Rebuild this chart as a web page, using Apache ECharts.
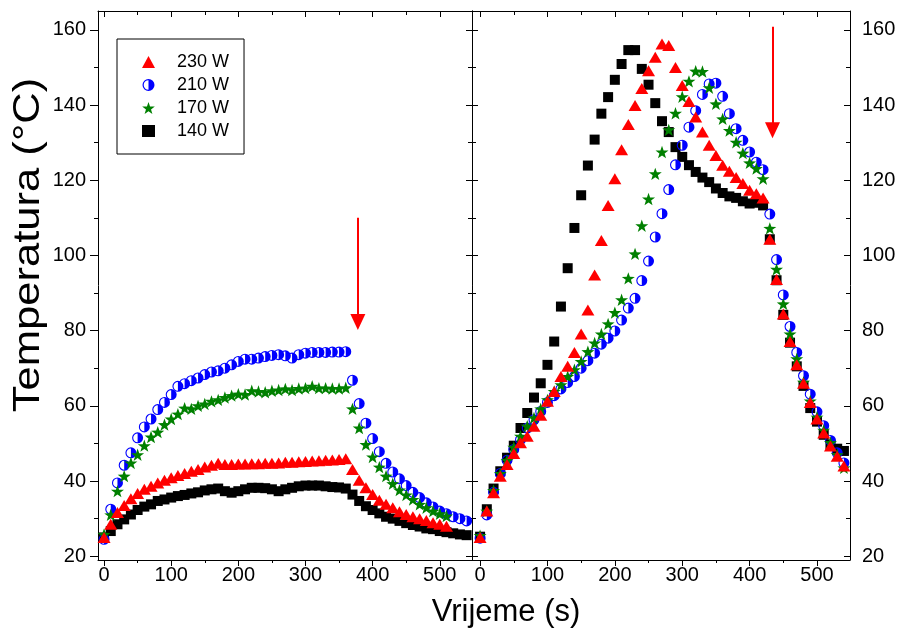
<!DOCTYPE html>
<html><head><meta charset="utf-8">
<script src="https://cdn.jsdelivr.net/npm/echarts@6/dist/echarts.min.js"></script>
<style>html,body{margin:0;padding:0;background:#fff}#c{width:899px;height:630px}</style>
</head><body><div id="c"></div>
<script>
// ---------- data ----------
const seriesNames = ['230 W', '210 W', '170 W', '140 W'];
const timeS = [0,10,20,30,40,50,60,70,80,90,100,110,120,130,140,150,160,170,180,190,200,210,220,230,240,250,260,270,280,290,300,310,320,330,340,350,360,370,380,390,400,410,420,430,440,450,460,470,480,490,500,510,520,530,540];
const xMajorTicks = [0, 100, 200, 300, 400, 500];
const xMinorTicks = [50, 150, 250, 350, 450];
const yMajorTicks = [20, 40, 60, 80, 100, 120, 140, 160];
const yMinorTicks = [30, 50, 70, 90, 110, 130, 150];

// left panel
const w230Left = [25,28.5,31.6,33.5,35.3,36.7,37.8,38.6,39.5,40.2,40.9,41.5,42,42.6,43.1,43.7,44.2,44.7,44.4,44.4,44.5,44.5,44.6,44.6,44.7,44.7,44.8,45,45,45.1,45.2,45.3,45.4,45.5,45.6,45.7,45.9,43.1,40.2,38.2,36.4,34.9,33.8,32.9,31.8,31.1,30.5,30,29.5,28.9,28.5,28];
const w210Left = [24.5,32.5,39.5,44.2,47.5,51.5,54.4,56.5,59,60.9,63,65.2,65.9,66.7,67.4,68.3,69,69.3,70,70.9,71.8,72.4,72.4,72.7,73.1,73.4,73.6,73.3,72.7,73.6,74,74.2,74.2,74.2,74.3,74.3,74.4,66.8,60.6,55.4,51.3,47.8,44.7,42.4,40.6,38.8,37,35.6,34.2,33.1,32,31.3,30.5,30,29.4];
const w170Left = [25.8,31,37.3,41.3,44.8,47,49.4,51.7,53,55,56.5,57.8,59.4,59.2,60,60.5,61.2,61.6,62.2,62.7,63.1,63,64,63.8,63.6,64,64.2,64.5,64.2,64.6,64.7,65.2,64.7,64.7,64.6,64.6,64.8,59.2,54.1,49.7,46.4,43.7,41.3,39.3,37.6,36.3,35.1,33.8,32.9,32,31.3,30.7];
const w140Left = [25,26.7,28.5,29.8,31.1,32.3,33.2,33.8,34.7,35.1,35.6,36,36.3,36.7,37,37.5,37.8,38,37.3,36.9,37.3,37.8,38.2,38.2,38.1,37.8,37.3,37.8,38.2,38.6,38.8,38.8,38.8,38.6,38.4,38.3,38,36.4,34.7,33.3,32.3,31.4,30.5,30,29.4,28.8,28.3,27.9,27.4,27.2,26.7,26.4,26.1,25.8,25.6];

// right panel
const w230Right = [25,32,36.9,41.3,44.4,47.3,50.2,51.9,54.6,57.5,61.2,63.8,67.8,70.5,74.2,79.1,85.5,94.8,104,113.3,120.4,128.1,134.8,139.9,144.4,149.1,152.7,156.2,155.8,150,145.2,140.9,136.8,132.8,129.3,126.6,124,122.4,120.7,119.1,117.3,116.4,115.3,104.3,93.6,84.4,77.1,70.9,66,60.9,56.5,52.8,49.3,46.6,44];
const w210Right = [24.8,31,37,42,45.5,48.4,51,54.1,56.3,58.5,60.9,62.7,64.5,66.2,67.8,70,72,74,76.4,78,79.9,82.8,86,88.6,93.3,98.5,104.9,111.1,117.5,124.1,129.3,134.1,138.5,142.8,145.6,145.8,142.3,137.7,133.7,130.6,127.5,124.8,122.8,111,98.9,89.5,81.1,74.2,68,63.1,58.4,54.7,50.8,47.5,44.8];
const w170Right = [25.5,32,37.5,42,45.5,49,51.9,54.6,56.8,59.2,61.6,63.8,65.6,67.8,69.6,71.8,74.4,76.7,79.1,81.8,84.8,88.2,93.9,100.4,107.9,115,121.7,127.5,133.4,137.8,142.2,146.3,149,148.9,144.6,140.3,136.3,133.2,130.1,127.2,124.6,123.1,120.4,107.2,96.3,87.1,79.1,72.5,66.3,61.3,57,53.5,50.2,47,43.5];
const w140Right = [25.2,32.5,38,42.6,46.2,49.4,54.1,58.1,62.2,66,70.9,77.1,86.4,96.6,107.3,116,123.9,130.8,137.7,142.1,146.7,150.9,154.6,154.6,149.6,145.4,140.5,135.7,132.8,128.8,126.2,124,122.2,120.7,119.5,117.8,116.6,115.7,115.3,114.4,113.8,114,113.3,104.3,93.4,84.2,76.8,70.5,65.3,59.4,55.8,52.3,49.7,48.6,48];

// ---------- chart ----------
const FONT = "'Liberation Sans', Arial, Helvetica, sans-serif";
const pairs = (vals) => vals.map((v, i) => [timeS[i], v]);

const STAR = 'path://M10,0L12.351,6.764L19.511,6.910L13.804,11.236L15.878,18.090L10,14L4.122,18.090L6.196,11.236L0.489,6.910L7.649,6.764Z';
const HALF = 'path://M10,0A10,10 0 1,1 10,20A10,10 0 1,1 10,0Z M10,2A8,8 0 1,0 10,18A8,8 0 1,0 10,2Z M10,2A8,8 0 0,1 10,18Z';

const LINE = { color: '#000', width: 1 };

function xAxes(grid, min, max) {
  const base = { gridIndex: grid, type: 'value', min, max, splitLine: { show: false } };
  return [
    Object.assign({}, base, { position: 'bottom',
      axisLine: { show: true, onZero: false, lineStyle: LINE },
      axisTick: { show: true, inside: false, length: 6, customValues: xMajorTicks, lineStyle: LINE },
      axisLabel: { show: true, customValues: xMajorTicks, margin: 5, fontSize: 20, color: '#000', fontFamily: FONT } }),
    Object.assign({}, base, { position: 'bottom',
      axisLine: { show: false, onZero: false },
      axisTick: { show: true, inside: false, length: 3, customValues: xMinorTicks, lineStyle: LINE },
      axisLabel: { show: false } }),
    Object.assign({}, base, { position: 'top',
      axisLine: { show: true, onZero: false, lineStyle: LINE },
      axisTick: { show: true, inside: true, length: 6, customValues: xMajorTicks, lineStyle: LINE },
      axisLabel: { show: false } }),
    Object.assign({}, base, { position: 'top',
      axisLine: { show: false, onZero: false },
      axisTick: { show: true, inside: true, length: 4, customValues: xMinorTicks, lineStyle: LINE },
      axisLabel: { show: false } })
  ];
}
function yAxes(grid, leftInside, leftLabels, rightLabels) {
  const base = { gridIndex: grid, type: 'value', min: 19, max: 165, splitLine: { show: false } };
  const lab = (show) => show ? { show: true, customValues: yMajorTicks, margin: 12, fontSize: 20, color: '#000', fontFamily: FONT } : { show: false };
  return [
    Object.assign({}, base, { position: 'left',
      axisLine: { show: true, onZero: false, lineStyle: LINE },
      axisTick: { show: true, inside: leftInside, length: leftInside ? 6 : 8, customValues: yMajorTicks, lineStyle: LINE },
      axisLabel: lab(leftLabels) }),
    Object.assign({}, base, { position: 'left',
      axisLine: { show: false, onZero: false },
      axisTick: { show: true, inside: leftInside, length: 4, customValues: yMinorTicks, lineStyle: LINE },
      axisLabel: { show: false } }),
    Object.assign({}, base, { position: 'right',
      axisLine: { show: true, onZero: false, lineStyle: LINE },
      axisTick: { show: true, inside: true, length: 6, customValues: yMajorTicks, lineStyle: LINE },
      axisLabel: lab(rightLabels) }),
    Object.assign({}, base, { position: 'right',
      axisLine: { show: false, onZero: false },
      axisTick: { show: true, inside: true, length: 4, customValues: yMinorTicks, lineStyle: LINE },
      axisLabel: { show: false } })
  ];
}

const styles = {
  '140 W': { symbol: 'rect', symbolSize: 10, color: '#000000' },
  '210 W': { symbol: HALF, symbolSize: 11, color: '#0000ff' },
  '170 W': { symbol: STAR, symbolSize: 13, color: '#008000' },
  '230 W': { symbol: 'triangle', symbolSize: [13, 11], color: '#ff0000' }
};
const leftData = { '230 W': w230Left, '210 W': w210Left, '170 W': w170Left, '140 W': w140Left };
const rightData = { '230 W': w230Right, '210 W': w210Right, '170 W': w170Right, '140 W': w140Right };
const drawOrder = ['140 W', '210 W', '170 W', '230 W'];

const series = [];
[[leftData, 0], [rightData, 1]].forEach(([set, g]) => {
  drawOrder.forEach((name, k) => {
    const st = styles[name];
    const s = {
      type: 'scatter', name, xAxisIndex: g * 4, yAxisIndex: g * 4,
      data: pairs(set[name]), symbol: st.symbol, symbolSize: st.symbolSize, symbolKeepAspect: true,
      itemStyle: { color: st.color, opacity: 1 }, z: 2 + k, silent: true
    };
    if (name === '230 W') {
      s.markLine = {
        silent: true, animation: false, symbol: ['none', 'triangle'], symbolSize: [15, 16],
        label: { show: false }, lineStyle: { color: '#ff0000', width: 2, type: 'solid' },
        data: g === 0
          ? [[{ coord: [378, 110] }, { coord: [378, 82.3] }]]
          : [[{ coord: [434, 160.8] }, { coord: [434, 133.3] }]]
      };
    }
    series.push(s);
  });
});

const chart = echarts.init(document.getElementById('c'), null, { renderer: 'canvas' });
chart.setOption({
  animation: false,
  backgroundColor: '#fff',
  grid: [
    { left: 98, top: 11, width: 374, height: 549 },
    { left: 472, top: 11, width: 378, height: 549 }
  ],
  xAxis: [].concat(xAxes(0, -9, 548), xAxes(1, -12, 549)),
  yAxis: [].concat(yAxes(0, false, true, false), yAxes(1, true, false, true)),
  legend: {
    data: seriesNames, orient: 'vertical', left: 117, top: 39,
    padding: [14, 15, 14, 25], itemWidth: 13, itemHeight: 12, itemGap: 5,
    borderColor: '#000', borderWidth: 1, selectedMode: false,
    textStyle: { fontSize: 18, color: '#000', fontFamily: FONT, padding: [0, 0, 0, 17] }
  },
  graphic: [
    { type: 'text', x: 506, y: 612, style: { text: 'Vrijeme (s)', fontSize: 31, fontFamily: FONT, fill: '#000', align: 'center', verticalAlign: 'middle' } },
    { type: 'text', x: 29, y: 245, rotation: Math.PI / 2, scaleX: 1.21, style: { text: 'Temperatura (°C)', fontSize: 36, fontFamily: FONT, fill: '#000', align: 'center', verticalAlign: 'middle' } }
  ],
  series
});
</script>
</body></html>
